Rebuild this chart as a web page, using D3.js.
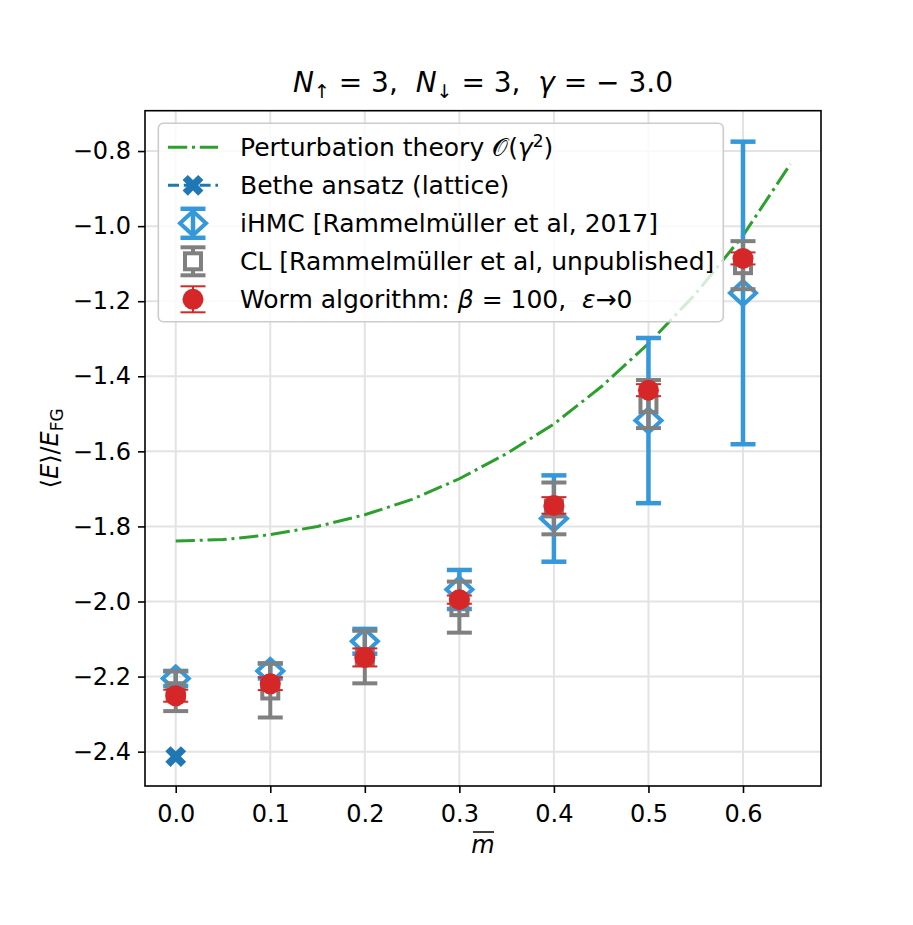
<!DOCTYPE html>
<html>
<head>
<meta charset="utf-8">
<script src="https://cdn.jsdelivr.net/npm/d3@7"></script>
<style>
  body { margin: 0; background: #fff; }
  text { font-family: "DejaVu Sans", sans-serif; fill: #000; white-space: pre; }
</style>
</head>
<body>
<svg id="chart" width="913" height="925"></svg>
<script>
// valores
const mVals = [0.0, 0.1, 0.2, 0.3, 0.4, 0.5, 0.6];
const ihmcE = [-2.205, -2.185, -2.106, -1.968, -1.779, -1.518, -1.178];
const ihmcErr = [0.02, 0.02, 0.033, 0.052, 0.115, 0.22, 0.403];
const clE = [-2.239, -2.237, -2.148, -2.015, -1.752, -1.474, -1.104];
const clErr = [0.053, 0.072, 0.070, 0.068, 0.069, 0.064, 0.064];
const wormE = [-2.251, -2.219, -2.149, -1.995, -1.744, -1.437, -1.086];
const wormErr = [0.016, 0.017, 0.024, 0.011, 0.022, 0.016, 0.016];
const betheM = [0.0];
const betheE = [-2.413];
const ptM = [0.0, 0.05, 0.1, 0.15, 0.2, 0.25, 0.3, 0.35, 0.4, 0.45, 0.5, 0.55, 0.6, 0.65];
const ptE = [-1.839, -1.835, -1.822, -1.800, -1.769, -1.728, -1.673, -1.606, -1.527, -1.428, -1.313, -1.180, -1.025, -0.835];
const xTicks = [0.0, 0.1, 0.2, 0.3, 0.4, 0.5, 0.6];
const yTicks = [-2.4, -2.2, -2.0, -1.8, -1.6, -1.4, -1.2, -1.0, -0.8];

const width = 913, height = 925;
const margin = {top: 110.7, right: 92, bottom: 139, left: 145};
const svg = d3.select("#chart");
svg.append("rect").attr("width", width).attr("height", height).attr("fill", "#fff");

const x = d3.scaleLinear().domain([-0.0325, 0.6825]).range([margin.left, width - margin.right]);
const y = d3.scaleLinear().domain([-2.4915, -0.6925]).range([height - margin.bottom, margin.top]);

const green = "#2ca02c", blueDark = "#1f77b4", blue = "#3498db", gray = "#808080", red = "#d62728";

// grade
svg.append("g").selectAll("line").data(xTicks).join("line")
    .attr("x1", d => x(d)).attr("x2", d => x(d))
    .attr("y1", margin.top).attr("y2", height - margin.bottom)
    .attr("stroke", "#e3e3e3").attr("stroke-width", 2);
svg.append("g").selectAll("line").data(yTicks).join("line")
    .attr("y1", d => y(d)).attr("y2", d => y(d))
    .attr("x1", margin.left).attr("x2", width - margin.right)
    .attr("stroke", "#e3e3e3").attr("stroke-width", 2);

// eixos
const fmt = d => d3.format(".1f")(d).replace("-", "\u2212");
const xAxis = svg.append("g")
    .attr("transform", `translate(0,${height - margin.bottom})`)
    .call(d3.axisBottom(x).tickValues(xTicks).tickFormat(fmt).tickSize(7).tickPadding(7));
const yAxis = svg.append("g")
    .attr("transform", `translate(${margin.left},0)`)
    .call(d3.axisLeft(y).tickValues(yTicks).tickFormat(fmt).tickSize(7).tickPadding(7));
[xAxis, yAxis].forEach(a => {
    a.select(".domain").remove();
    a.selectAll(".tick line").attr("stroke", "#000").attr("stroke-width", 1.6);
    a.selectAll(".tick text").attr("font-size", 24).attr("font-family", "DejaVu Sans").attr("fill", "#000");
});
xAxis.selectAll(".tick text").attr("dy", "0.9em");

// curva de perturbação
const line = d3.line().x((d, i) => x(ptM[i])).y(d => y(d));
svg.append("path").datum(ptE).attr("d", line)
    .attr("fill", "none").attr("stroke", green).attr("stroke-width", 3)
    .attr("stroke-dasharray", "19.2,4.8,3,4.8");

// Bethe
const cross = d3.symbol().type(d3.symbolCross).size(270);
svg.append("g").selectAll("path").data(betheE).join("path")
    .attr("d", cross)
    .attr("transform", (d, i) => `translate(${x(betheM[i])},${y(d)}) rotate(45)`)
    .attr("fill", blueDark);

function errorBars(vals, errs, color, lw, capLw) {
    const g = svg.append("g");
    g.selectAll(".err").data(vals).join("line")
        .attr("x1", (d, i) => x(mVals[i])).attr("x2", (d, i) => x(mVals[i]))
        .attr("y1", (d, i) => y(d - errs[i])).attr("y2", (d, i) => y(d + errs[i]))
        .attr("stroke", color).attr("stroke-width", lw);
    [-1, 1].forEach(s => {
        g.selectAll(".cap" + (s + 1)).data(vals).join("line")
            .attr("x1", (d, i) => x(mVals[i]) - 12.5).attr("x2", (d, i) => x(mVals[i]) + 12.5)
            .attr("y1", (d, i) => y(d + s * errs[i])).attr("y2", (d, i) => y(d + s * errs[i]))
            .attr("stroke", color).attr("stroke-width", capLw);
    });
    return g;
}

const diamond = "M0,-12L13,0L0,12L-13,0Z";

// iHMC
errorBars(ihmcE, ihmcErr, blue, 4.5, 4.5)
    .selectAll(".mk").data(ihmcE).join("path")
    .attr("d", diamond)
    .attr("transform", (d, i) => `translate(${x(mVals[i])},${y(d)})`)
    .attr("fill", "none").attr("stroke", blue).attr("stroke-width", 4);

// CL
errorBars(clE, clErr, gray, 4, 4)
    .selectAll(".mk").data(clE).join("rect")
    .attr("x", (d, i) => x(mVals[i]) - 8).attr("y", d => y(d) - 8)
    .attr("width", 16).attr("height", 16)
    .attr("fill", "none").attr("stroke", gray).attr("stroke-width", 4);

// Worm
errorBars(wormE, wormErr, red, 2, 2)
    .selectAll(".mk").data(wormE).join("circle")
    .attr("cx", (d, i) => x(mVals[i])).attr("cy", d => y(d))
    .attr("r", 10.5).attr("fill", red);

// moldura
svg.append("rect")
    .attr("x", margin.left).attr("y", margin.top)
    .attr("width", width - margin.left - margin.right)
    .attr("height", height - margin.top - margin.bottom)
    .attr("fill", "none").attr("stroke", "#000").attr("stroke-width", 1.6);

// texto com partes em itálico / subscrito
function richText(sel, parts) {
    parts.forEach(p => {
        const t = sel.append("tspan").text(p.t);
        if (p.it) t.attr("font-style", "italic");
        if (p.size) t.attr("font-size", p.size);
        if (p.dy) t.attr("dy", p.dy);
    });
    return sel;
}

// título
richText(svg.append("text").attr("x", (margin.left + width - margin.right) / 2).attr("y", 92)
    .attr("text-anchor", "middle").attr("font-size", 28), [
    {t: "N", it: true}, {t: "\u2191", size: 19, dy: 6}, {t: " = 3,  ", dy: -6},
    {t: "N", it: true}, {t: "\u2193", size: 19, dy: 6}, {t: " = 3,  ", dy: -6},
    {t: "\u03b3", it: true}, {t: " = \u2212 3.0"}
]);

// rótulos dos eixos
svg.append("text").attr("x", (margin.left + width - margin.right) / 2).attr("y", 853)
    .attr("text-anchor", "middle").attr("font-size", 24).attr("font-style", "italic")
    .text("m");
svg.append("line")
    .attr("x1", (margin.left + width - margin.right) / 2 - 10)
    .attr("x2", (margin.left + width - margin.right) / 2 + 11)
    .attr("y1", 832).attr("y2", 832).attr("stroke", "#000").attr("stroke-width", 1.5);

richText(svg.append("text")
    .attr("transform", `translate(58,${(margin.top + height - margin.bottom) / 2}) rotate(-90)`)
    .attr("text-anchor", "middle").attr("font-size", 24), [
    {t: "\u27e8"}, {t: "E", it: true}, {t: "\u27e9/"}, {t: "E", it: true},
    {t: "FG", size: 17, dy: 5}
]);

// legenda
const legend = svg.append("g").attr("class", "legend");
legend.append("rect")
    .attr("x", 158.3).attr("y", 123.3).attr("width", 565).attr("height", 198.4).attr("rx", 5)
    .attr("fill", "#fff").attr("fill-opacity", 0.8)
    .attr("stroke", "#cccccc").attr("stroke-width", 1.6);

const hx = 193, rows = [147.3, 185.3, 223.3, 261.3, 299.3];
legend.append("line").attr("x1", 168).attr("x2", 218).attr("y1", rows[0]).attr("y2", rows[0])
    .attr("stroke", green).attr("stroke-width", 3).attr("stroke-dasharray", "19.2,4.8,3,4.8");
legend.append("line").attr("x1", 168).attr("x2", 218).attr("y1", rows[1]).attr("y2", rows[1])
    .attr("stroke", blueDark).attr("stroke-width", 3).attr("stroke-dasharray", "11,4.8");
legend.append("path").attr("d", cross).attr("transform", `translate(${hx},${rows[1]}) rotate(45)`).attr("fill", blueDark);

function legendErr(yc, color, lw, half) {
    legend.append("line").attr("x1", hx).attr("x2", hx).attr("y1", yc - half).attr("y2", yc + half)
        .attr("stroke", color).attr("stroke-width", lw);
    [-half, half].forEach(o => legend.append("line")
        .attr("x1", hx - 12.5).attr("x2", hx + 12.5).attr("y1", yc + o).attr("y2", yc + o)
        .attr("stroke", color).attr("stroke-width", lw));
}
legendErr(rows[2], blue, 4.5, 14.5);
legend.append("path").attr("d", diamond).attr("transform", `translate(${hx},${rows[2]})`)
    .attr("fill", "none").attr("stroke", blue).attr("stroke-width", 4);
legendErr(rows[3], gray, 4, 14);
legend.append("rect").attr("x", hx - 8).attr("y", rows[3] - 8).attr("width", 16).attr("height", 16)
    .attr("fill", "#fff").attr("stroke", gray).attr("stroke-width", 4);
legendErr(rows[4], red, 2, 13);
legend.append("circle").attr("cx", hx).attr("cy", rows[4]).attr("r", 10.5).attr("fill", red);

const labels = [
    [{t: "Perturbation theory "}, {t: "\ud835\udcaa"}, {t: "("}, {t: "\u03b3", it: true}, {t: "2", size: 17, dy: -9}, {t: ")", dy: 9}],
    [{t: "Bethe ansatz (lattice)"}],
    [{t: "iHMC [Rammelmüller et al, 2017]"}],
    [{t: "CL [Rammelmüller et al, unpublished]"}],
    [{t: "Worm algorithm: "}, {t: "\u03b2", it: true}, {t: " = 100,  "}, {t: "\u03b5", it: true}, {t: "\u21920"}]
];
labels.forEach((parts, i) => {
    richText(legend.append("text").attr("x", 240).attr("y", rows[i] + 9).attr("font-size", 25), parts);
});
</script>
</body>
</html>
